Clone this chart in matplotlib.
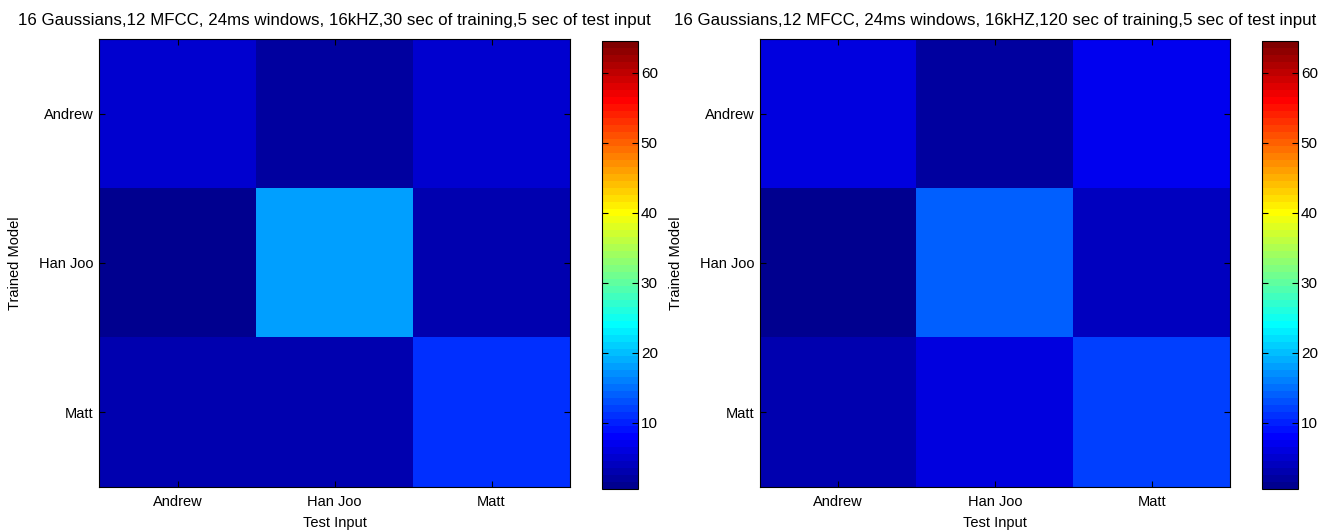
import matplotlib
matplotlib.use("Agg")
import matplotlib.pyplot as plt
import numpy as np
from matplotlib.colors import ListedColormap, Normalize

plt.rcParams["font.family"] = ["Liberation Sans", "DejaVu Sans"]

speakers = ["Andrew", "Han Joo", "Matt"]
titles = [
    "16 Gaussians,12 MFCC, 24ms windows, 16kHZ,30 sec of training,5 sec of test input",
    "16 Gaussians,12 MFCC, 24ms windows, 16kHZ,120 sec of training,5 sec of test input",
]
# rows = trained model, columns = test input
scores_30s = [
    [5, 2, 5],
    [1, 18, 3],
    [3, 3, 11],
]
scores_120s = [
    [6, 2, 7],
    [1, 14, 4],
    [3, 6, 12],
]
cbar_ticks = [10, 20, 30, 40, 50, 60]


def matlab_jet(n=64):
    m = int(np.ceil(n / 4))
    u = np.concatenate([np.arange(1, m + 1) / m, np.ones(m - 1), np.arange(m, 0, -1) / m])
    g = int(np.ceil(m / 2)) - (1 if n % 4 == 1 else 0) + np.arange(1, len(u) + 1)
    r = g + m
    b = g - m
    g = g[g <= n]
    r = r[r <= n]
    b = b[b >= 1]
    j = np.zeros((n, 3))
    j[r - 1, 0] = u[: len(r)]
    j[g - 1, 1] = u[: len(g)]
    j[b - 1, 2] = u[len(u) - len(b):]
    return ListedColormap(j)


cmap = matlab_jet(64)
norm = Normalize(vmin=0.5, vmax=64.5)

W, H = 1327, 531
fig = plt.figure(figsize=(W / 100, H / 100), dpi=100)


def px(x0, y0, x1, y1):
    return [x0 / W, 1 - y1 / H, (x1 - x0) / W, (y1 - y0) / H]


panels = [
    (scores_30s, titles[0], px(99, 39, 570, 487), px(602, 41, 638, 489)),
    (scores_120s, titles[1], px(760, 39, 1230, 487), px(1262, 41, 1298, 489)),
]

fs = 10.5
for data, title, ax_rect, cb_rect in panels:
    ax = fig.add_axes(ax_rect)
    im = ax.imshow(np.array(data), cmap=cmap, norm=norm, aspect="auto",
                   interpolation="nearest",
                   extent=[0.5, 3.5, 3.5, 0.5])
    ax.set_xticks([1, 2, 3])
    ax.set_yticks([1, 2, 3])
    ax.set_xticklabels(speakers, fontsize=fs)
    ax.set_yticklabels(speakers, fontsize=fs)
    ax.tick_params(axis="x", direction="in", length=4, width=0.8, top=True, pad=6)
    ax.tick_params(axis="y", direction="in", length=4, width=0.8, right=True, pad=4)
    ax.set_xlabel("Test Input", fontsize=fs, labelpad=5)
    ax.set_ylabel("Trained Model", fontsize=fs, labelpad=12)
    ax.set_title(title, fontsize=12.2, pad=10)
    for s in ax.spines.values():
        s.set_linewidth(0.8)

    cax = fig.add_axes(cb_rect)
    cb = fig.colorbar(im, cax=cax, ticks=cbar_ticks)
    cb.outline.set_linewidth(0.8)
    cax.tick_params(direction="in", length=4, width=0.8, left=True, right=True,
                    labelsize=11, pad=2)

fig.savefig("out.png", dpi=100)
